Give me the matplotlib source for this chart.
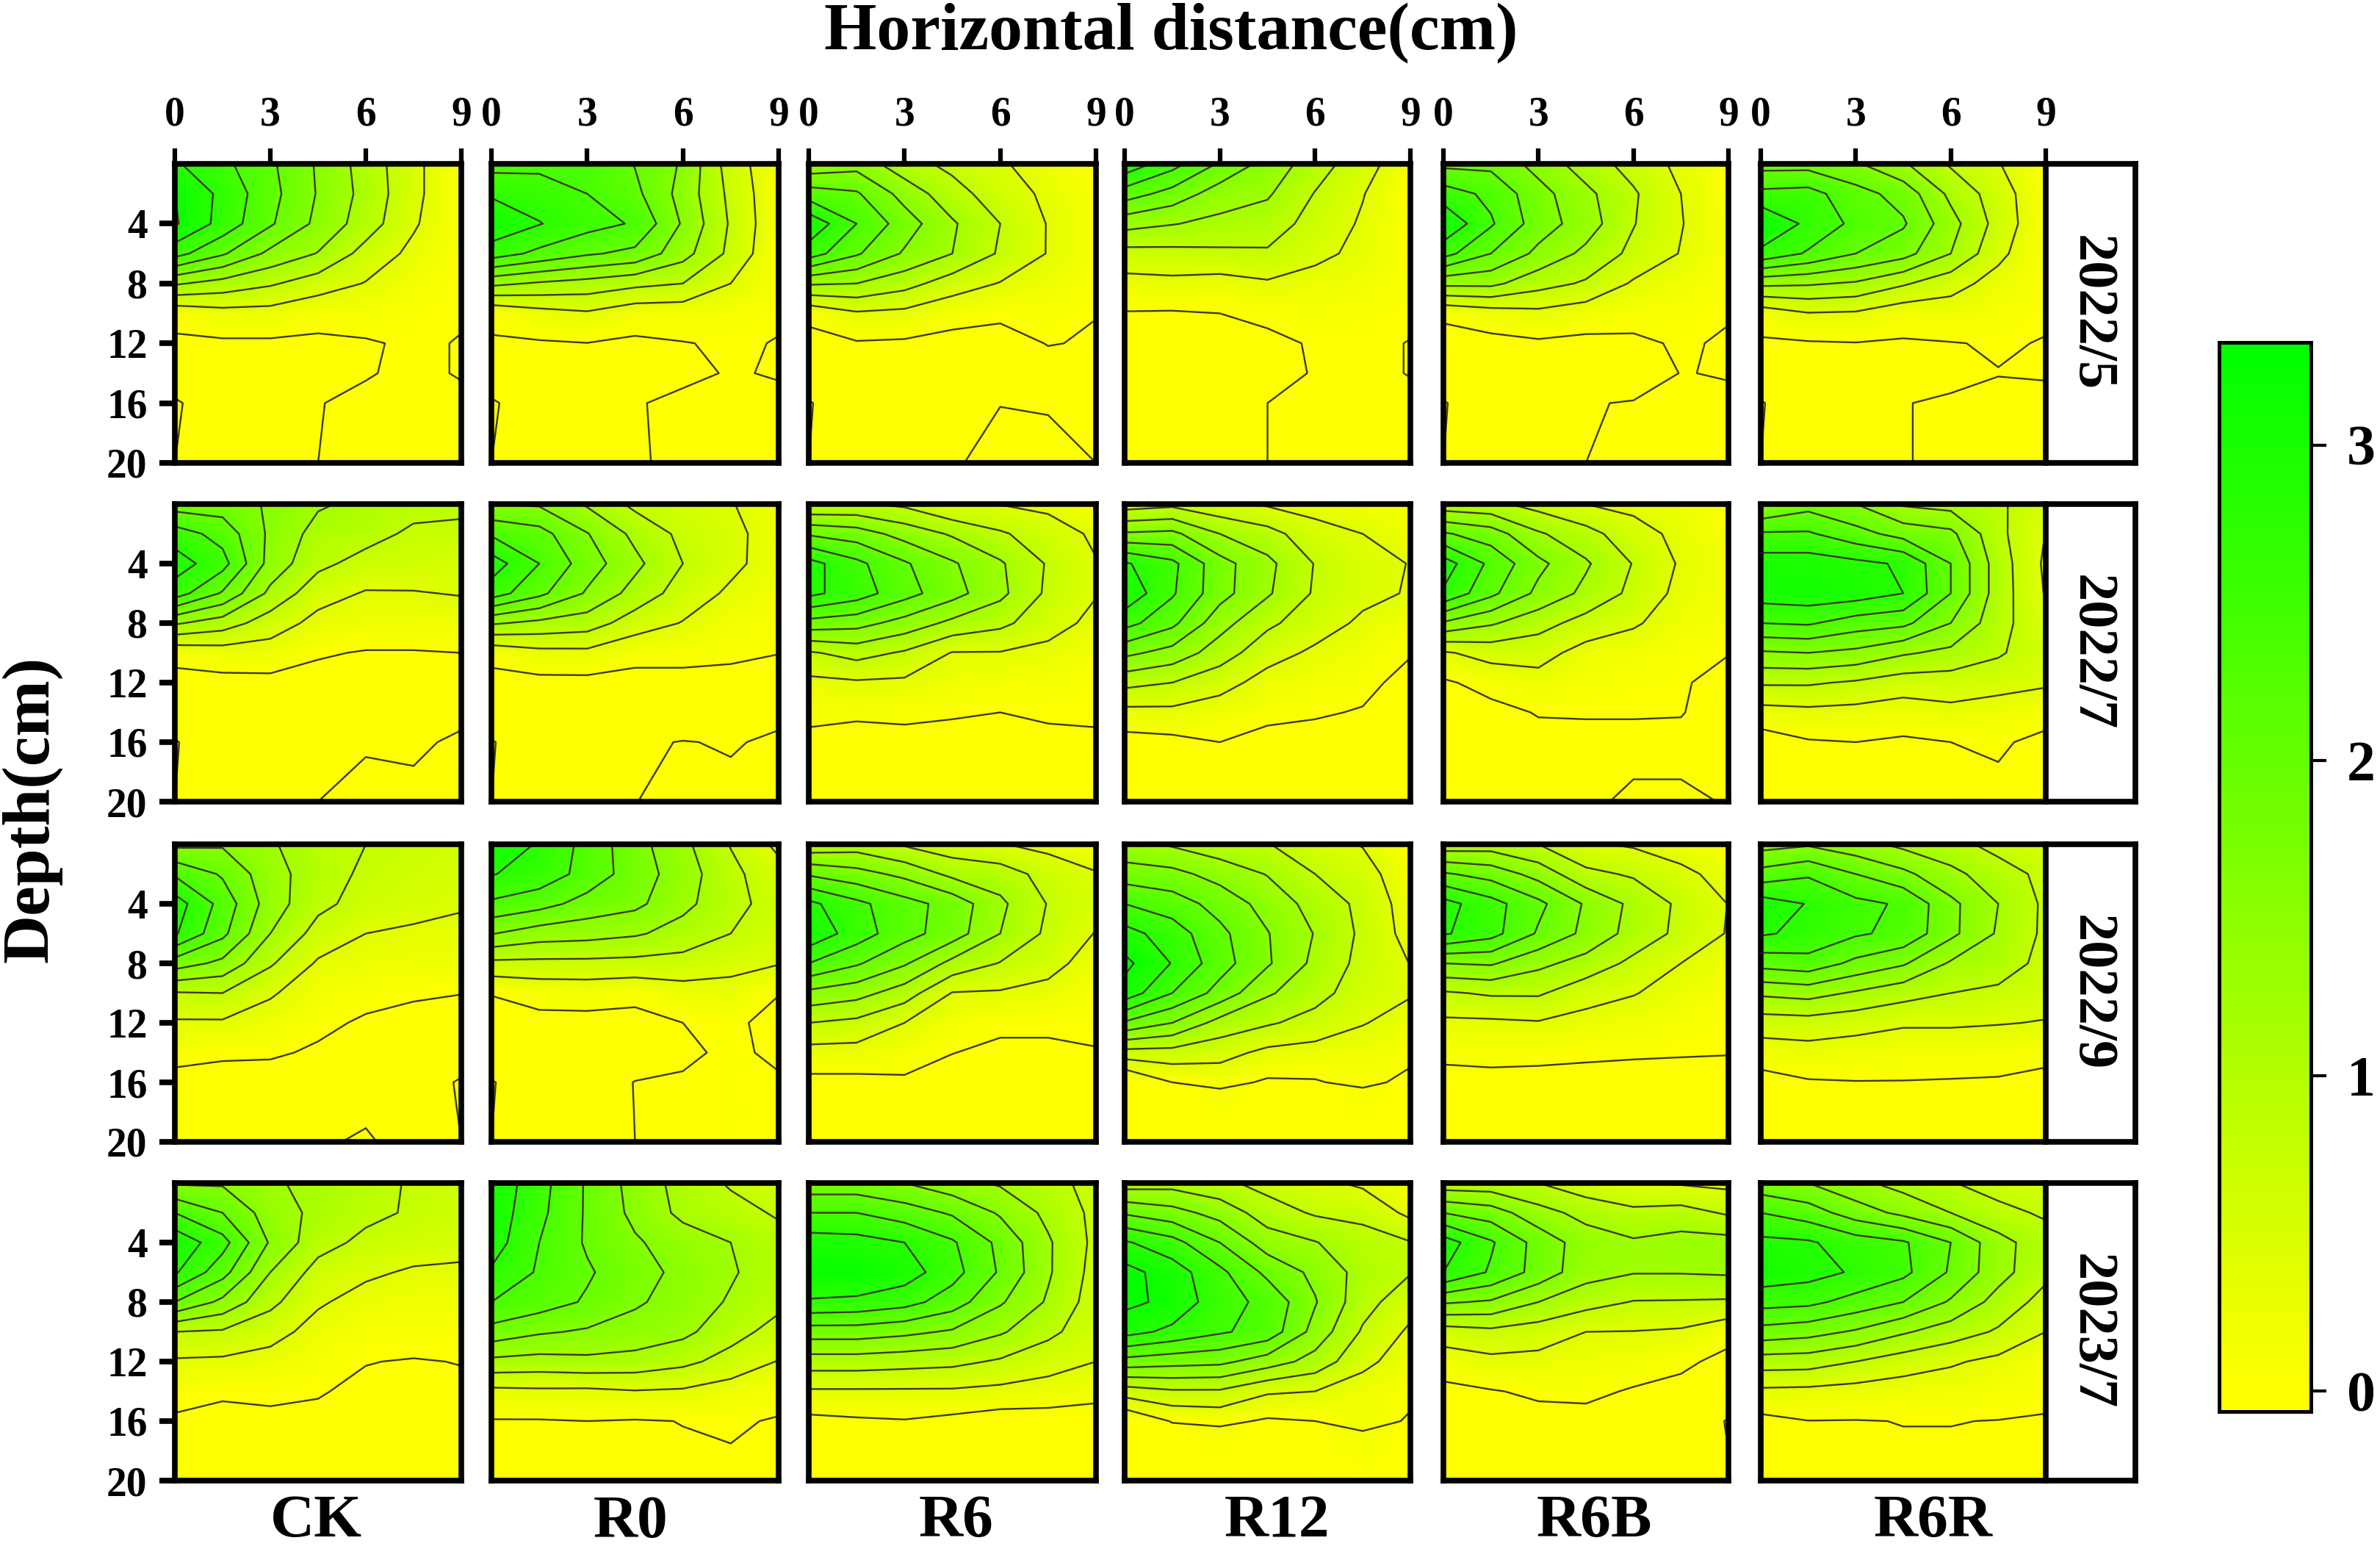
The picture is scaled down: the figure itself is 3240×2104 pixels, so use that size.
import matplotlib
matplotlib.use('Agg')
import matplotlib.pyplot as plt
import numpy as np
from matplotlib.colors import LinearSegmentedColormap, Normalize
from matplotlib.cm import ScalarMappable

plt.rcParams['font.family'] = ['Liberation Serif', 'DejaVu Serif']
plt.rcParams['font.weight'] = 'bold'

# Grid the soil values were read on
distance = [0, 1.5, 3, 4.5, 6, 7.5, 9]
depth = [0, 2, 4, 6, 8, 10, 12, 14, 16, 20]
contour_levels = [0, 0.4, 0.8, 1.2, 1.6, 2.0, 2.4, 2.8, 3.2]
treatments = ['CK', 'R0', 'R6', 'R12', 'R6B', 'R6R']
dates = ['2022/5', '2022/7', '2022/9', '2023/7']
distance_ticks = [0, 3, 6, 9]
depth_ticks = [4, 8, 12, 16, 20]
colorbar_ticks = [0, 1, 2, 3]

# 2022/5
ck_2022_05 = [[2.85, 2.5, 2.07, 1.55, 1.03, .5, .05], [3.2, 2.7, 2.13, 1.57, 1.07, .5, .05],
              [3.25, 2.65, 2.05, 1.5, 1.0, .45, .03], [2.55, 2.05, 1.5, 1.18, .65, .3, .03],
              [1.25, 1.05, .85, .6, .38, .15, .02], [.1, .25, .25, .1, .1, .05, .02],
              [-.05, -.05, -.05, -.05, -.02, .03, -.01], [-.05, -.05, -.05, -.05, -.01, .03, -.01],
              [.01, -.05, -.05, -.005, .03, .04, .03], [0, -.05, -.05, 0, .03, .04, .03]]
r0_2022_05 = [[2.25, 2.3, 2.38, 1.98, 1.55, .6, .1], [2.75, 2.6, 2.4, 2.1, 1.45, .7, .08],
              [3.1, 2.82, 2.55, 2.36, 1.55, .75, .08], [2.6, 2.3, 2.05, 1.9, 1.35, .7, .05],
              [1.3, 1.15, 1.05, .9, .8, .4, .05], [.05, .25, .35, .15, .15, .1, .03],
              [-.02, -.03, -.005, -.05, -.01, .03, -.01], [-.05, -.05, -.05, -.05, -.03, .01, -.01],
              [.01, -.05, -.05, -.01, .03, .04, .03], [0, -.05, -.05, -.01, .02, .04, .03]]
r6_2022_05 = [[1.3, 1.45, .95, .7, .45, .2, .05], [2.2, 2.05, 1.45, .95, .6, .32, .1],
              [3.1, 2.4, 1.8, 1.25, .8, .38, .1], [2.6, 2.05, 1.55, 1.2, .75, .38, .1],
              [1.25, 1.2, .95, .6, .38, .2, .1], [.08, .35, .3, .12, .05, .1, .005],
              [-.1, -.03, -.05, -.1, -.1, .01, -.02], [-.1, -.1, -.1, -.1, -.1, -.1, -.1],
              [.01, -.1, -.1, -.03, -.002, -.01, -.01], [0, -.1, -.1, -.01, .03, .04, 0]]
r12_2022_05 = [[3.1, 2.55, 1.95, 1.45, 1.0, .55, .15], [2.2, 1.85, 1.4, 1.25, .78, .42, -.005],
               [1.35, 1.22, 1.1, 1.0, .65, .35, .05], [.65, .68, .72, .75, .5, .3, .05],
               [.27, .3, .25, .35, .25, .18, .05], [-.02, -.03, 0, .05, .1, .08, .03],
               [-.1, -.1, -.1, -.05, .02, .03, -.005], [-.1, -.1, -.1, -.1, .02, .03, -.005],
               [-.1, -.1, -.1, 0, .03, .03, .03], [-.1, -.1, -.1, 0, .03, .03, .03]]
r6b_2022_05 = [[1.9, 1.9, 1.45, 1.0, .65, .3, .05], [2.6, 2.3, 1.75, 1.3, .85, .4, .05],
               [3.15, 2.45, 1.8, 1.4, .82, .42, .08], [2.55, 2.0, 1.5, 1.1, .7, .38, .08],
               [1.3, 1.3, .95, .75, .35, .2, .05], [.05, .2, .3, .18, .1, .08, .02],
               [-.1, -.1, -.05, -.08, -.05, .03, -.03], [-.1, -.1, -.1, -.1, -.1, .005, -.01],
               [.01, -.1, -.1, -.01, .01, .03, .03], [0, -.1, -.1, 0, .03, .03, .03]]
r6r_2022_05 = [[1.85, 1.85, 1.65, 1.25, .75, .42, .05], [2.5, 2.55, 2.15, 1.85, 1.1, .6, .05],
               [3.2, 2.7, 2.3, 2.05, 1.35, .65, .05], [2.7, 2.35, 2.0, 1.75, 1.2, .5, .05],
               [1.3, 1.25, 1.15, .85, .55, .25, .03], [.15, .38, .35, .15, .2, .12, .03],
               [-.04, -.03, -.01, -.03, -.01, .02, -.01], [-.05, -.05, -.05, -.05, -.04, -.005, -.01],
               [.005, -.05, -.05, -.005, .02, .04, .03], [0, -.05, -.05, -.005, .02, .04, .03]]

# 2022/7
ck_2022_07 = [[1.8, 1.8, 1.55, 1.25, 1.1, .95, .9], [2.6, 2.25, 1.52, 1.05, .95, .72, .7],
              [3.0, 2.55, 1.45, .9, .65, .6, .55], [2.6, 1.95, 1.1, .55, .37, .38, .42],
              [1.25, 1.0, .6, .28, .2, .2, .2], [.1, .2, .22, .03, -.02, -.02, 0],
              [-.1, -.1, -.1, -.1, -.1, -.1, -.1], [-.1, -.1, -.1, -.1, -.1, -.1, -.03],
              [.01, -.1, -.1, -.02, -.01, -.02, .02], [0, -.1, -.1, 0, .03, .03, .03]]
r0_2022_07 = [[1.6, 1.55, 1.15, .7, .55, .42, .2], [2.35, 2.15, 1.62, 1.1, .7, .5, .22],
              [3.0, 2.4, 1.8, 1.3, .8, .5, .2], [2.6, 2.1, 1.55, 1.05, .62, .33, .15],
              [1.25, 1.1, 1.0, .6, .38, .15, .1], [.1, .28, .3, .1, .1, .06, .005],
              [-.1, -.1, -.1, -.1, -.1, -.1, -.1], [-.1, -.1, -.1, -.1, -.1, -.1, -.03],
              [.01, -.1, -.1, -.02, .005, -.01, .02], [0, -.1, -.1, -.002, .03, .03, .03]]
r6_2022_07 = [[.8, .85, .72, .4, .39, .3, .1], [1.95, 1.8, 1.45, 1.15, .85, .6, .33],
              [2.95, 2.5, 2.05, 1.65, 1.25, .76, .42], [2.9, 2.6, 2.15, 1.75, 1.3, .72, .42],
              [1.85, 1.75, 1.45, 1.1, .9, .55, .3], [.75, .95, .75, .38, .38, .3, .15],
              [.3, .35, .33, .2, .15, .1, .07], [.1, .13, .07, .03, 0, .03, .05],
              [-.1, -.3, -.1, -.1, -.1, -.05, -.05], [-.1, -.1, -.1, -.1, -.1, -.1, -.1]]
r12_2022_07 = [[.6, .7, .5, .35, .25, .18, .1], [1.65, 1.7, 1.2, .95, .55, .4, .2],
               [2.85, 2.5, 1.75, 1.3, .78, .5, .39], [3.1, 2.45, 1.75, 1.25, .75, .5, .37],
               [2.55, 2.1, 1.35, .88, .58, .33, .18], [1.7, 1.45, 1.0, .55, .33, .2, .02],
               [.92, .8, .55, .25, .15, .08, -.1], [.28, .3, .2, .08, .03, -.02, -.1],
               [-.15, -.1, 0, -.1, -.1, -.1, -.1], [-.1, -.1, -.1, -.1, -.1, -.1, -.1]]
r6b_2022_07 = [[.95, .9, .65, .4, .3, .2, .05], [2.05, 1.8, 1.25, .95, .55, .3, .1],
               [3.0, 2.3, 1.7, 1.25, .78, .35, .15], [2.75, 2.1, 1.5, 1.1, .7, .28, .15],
               [1.55, 1.25, .95, .65, .45, .2, .1], [.35, .55, .55, .25, .18, .08, .01],
               [-.05, .12, .25, .1, .07, .03, -.1], [-.1, -.1, .02, .03, .015, .01, -.1],
               [-.1, -.1, -.1, -.1, -.05, -.05, -.1], [-.1, -.1, -.1, -.03, .03, .03, -.01]]
r6r_2022_07 = [[1.55, 1.85, 1.6, 1.15, 1.05, .85, .6], [2.45, 2.45, 2.15, 1.85, 1.7, .9, .39],
               [3.0, 3.0, 2.9, 2.75, 2.0, 1.0, .33], [3.0, 3.05, 3.0, 2.8, 2.0, 1.0, .37],
               [2.4, 2.45, 2.2, 2.1, 1.6, .95, .48], [1.55, 1.6, 1.5, 1.25, 1.1, .85, .55],
               [.85, .85, .75, .6, .6, .55, .45], [.25, .3, .27, .2, .3, .2, .15],
               [-.2, -.03, 0, -.05, 0, .05, -.1], [-.1, -.1, -.1, -.1, -.1, -.1, -.1]]

# 2022/9
ck_2022_09 = [[1.5, 1.55, 1.25, .95, .8, .7, .6], [2.35, 1.95, 1.35, 1.0, .72, .62, .55],
              [3.0, 2.25, 1.4, .9, .65, .55, .44], [2.85, 2.1, 1.2, .65, .4, .33, .3],
              [1.8, 1.5, .85, .35, .25, .22, .2], [.77, .8, .45, .15, .07, .02, .005],
              [.35, .35, .2, .05, -.03, -.05, -.1], [.1, .04, .03, -.03, -.1, -.1, -.1],
              [-.1, -.1, -.1, -.1, -.1, -.1, .02], [-.05, -.1, -.1, -.03, .03, -.1, 0]]
r0_2022_09 = [[3.15, 2.75, 2.27, 1.75, 1.3, .78, .3], [2.82, 2.65, 2.25, 1.8, 1.4, .9, .55],
              [2.33, 2.15, 1.85, 1.7, 1.3, .95, .6], [1.62, 1.4, 1.35, 1.25, 1.05, .8, .55],
              [.7, .7, .7, .68, .65, .5, .42], [.01, .13, .15, .09, .23, .28, .01],
              [-.1, -.1, -.1, -.1, 0, .06, -.1], [-.1, -.1, -.1, -.1, -.05, .05, -.05],
              [.01, -.1, -.1, .005, .03, .05, .03], [0, -.1, -.1, 0, .03, .05, .03]]
r6_2022_09 = [[.9, 1.0, .75, .55, .42, .28, .12], [1.95, 1.75, 1.5, 1.1, 1.0, .65, .43],
              [2.9, 2.5, 2.15, 1.85, 1.28, .78, .48], [3.1, 2.6, 2.15, 1.8, 1.2, .72, .38],
              [2.4, 2.05, 1.65, 1.08, .78, .55, .2], [1.5, 1.35, 1.0, .38, .36, .27, .1],
              [.8, .7, .4, .15, .05, .05, .04], [.25, .25, .15, .005, -.05, -.05, -.01],
              [-.1, -.1, -.05, -.1, -.1, -.1, -.1], [-.05, -.05, -.05, -.05, -.05, -.05, -.05]]
r12_2022_09 = [[1.3, 1.15, .95, .82, .55, .38, .08], [1.8, 1.72, 1.45, 1.18, .8, .55, .15],
               [2.4, 2.2, 1.85, 1.45, 1.05, .7, .2], [2.95, 2.6, 2.1, 1.62, 1.18, .72, .25],
               [3.3, 2.78, 2.17, 1.65, 1.1, .68, .39], [3.05, 2.4, 1.85, 1.25, .95, .58, .43],
               [1.95, 1.6, 1.05, .85, .65, .42, .25], [.65, .65, .55, .3, .25, .2, .1],
               [-.5, 0, .12, -.05, -.03, .1, -.1], [-1, -1, -1, -1, -1, -1, -1]]
r6b_2022_09 = [[.95, 1.0, .8, .45, .35, .2, .1], [2.05, 1.85, 1.45, .9, .75, .5, .25],
               [2.95, 2.55, 2.1, 1.55, 1.1, .72, .39], [2.85, 2.55, 1.95, 1.5, 1.05, .7, .37],
               [1.6, 1.65, 1.3, 1.05, .7, .4, .2], [.75, .85, .85, .55, .42, .25, .1],
               [.32, .33, .37, .27, .2, .1, .05], [.1, .1, .08, .05, .03, .015, .01],
               [-.15, -.1, -.1, -.1, -.1, -.08, -.1], [-.1, -.1, -.1, -.1, -.1, -.1, -.1]]
r6r_2022_09 = [[1.45, 1.55, 1.35, 1.1, .95, .65, .5], [2.15, 2.35, 2.0, 1.7, 1.3, 1.0, .68],
               [3.0, 2.78, 2.5, 2.35, 1.7, 1.2, .72], [2.85, 2.7, 2.45, 2.3, 1.7, 1.15, .72],
               [2.15, 2.25, 1.9, 1.65, 1.15, 1.05, .65], [1.27, 1.35, 1.15, .95, .8, .7, .55],
               [.6, .63, .55, .45, .45, .42, .38], [.2, .25, .2, .15, .15, .13, .1],
               [-.15, -.03, -.01, -.01, -.02, -.03, -.1], [-.1, -.1, -.1, -.1, -.1, -.1, -.1]]

# 2023/7
ck_2023_07 = [[1.55, 1.55, 1.25, 1.1, .95, .75, .65], [2.4, 2.0, 1.4, 1.1, .9, .75, .65],
              [3.1, 2.55, 1.55, .95, .7, .6, .55], [2.85, 2.15, 1.2, .65, .47, .35, .32],
              [2.0, 1.5, .9, .45, .25, .2, .17], [.8, .75, .55, .25, .1, .08, .06],
              [.35, .33, .25, .12, .005, -.01, .005], [.08, .015, .03, .01, -.03, -.03, -.03],
              [-.03, -.03, -.03, -.03, -.03, -.03, -.03], [-.05, -.05, -.05, -.05, -.05, -.05, -.05]]
r0_2023_07 = [[3.1, 2.55, 1.95, 1.45, 1.05, .75, .55], [3.05, 2.5, 1.95, 1.5, 1.1, .95, .75],
              [3.0, 2.4, 1.95, 1.65, 1.4, 1.2, .95], [2.75, 2.35, 2.05, 1.75, 1.5, 1.25, .95],
              [2.4, 2.2, 1.95, 1.65, 1.45, 1.15, .9], [1.85, 1.65, 1.55, 1.45, 1.3, .95, .65],
              [1.1, 1.05, 1.1, 1.05, .9, .65, .38], [.3, .33, .32, .38, .35, .22, .1],
              [-.02, -.02, 0, -.02, .005, .03, -.02], [-.05, -.05, -.05, -.05, -.05, -.05, -.05]]
r6_2023_07 = [[1.75, 1.75, 1.6, 1.35, 1.15, .9, .7], [2.4, 2.4, 2.2, 1.95, 1.55, 1.1, .7],
              [3.0, 2.95, 2.8, 2.45, 1.9, 1.25, .7], [3.2, 3.2, 3.0, 2.55, 1.95, 1.25, .65],
              [2.75, 2.7, 2.55, 2.2, 1.65, 1.15, .6], [1.8, 1.8, 1.7, 1.55, 1.25, .9, .55],
              [1.0, 1.0, .95, .9, .75, .55, .4], [.35, .35, .35, .35, .3, .25, .2],
              [-.1, -.05, -.02, -.1, -.2, -.2, -.3], [-.05, -.05, -.05, -.05, -.05, -.05, -.05]]
r12_2023_07 = [[1.0, 1.05, .9, .65, .5, .33, .15], [1.95, 1.75, 1.45, 1.0, .75, .7, .3],
               [2.85, 2.55, 2.0, 1.4, 1.22, .95, .82], [3.35, 3.0, 2.5, 1.9, 1.5, 1.05, .82],
               [3.3, 3.1, 2.55, 2.3, 1.63, .95, .55], [2.95, 2.7, 2.45, 2.25, 1.45, .75, .33],
               [1.85, 1.75, 1.7, 1.4, 1.05, .5, .2], [.6, .75, .75, .45, .4, .22, .1],
               [-.4, .03, .1, -.05, 0, .2, -.05], [-1, -1, -1, -1, -1, -1, -1]]
r6b_2023_07 = [[.95, .95, .8, .55, .39, .36, .3], [2.0, 1.8, 1.35, 1.07, .9, .95, .75],
               [3.0, 2.45, 1.85, 1.4, 1.25, 1.35, 1.35], [2.8, 2.35, 1.85, 1.35, 1.22, 1.22, 1.25],
               [1.65, 1.55, 1.2, .95, .78, .77, .75], [.6, .7, .6, .4, .39, .35, .12],
               [.2, .3, .28, .22, .17, .07, -.1], [-.1, -.02, .05, .07, -.03, -.1, -.1],
               [-.1, -.1, -.1, -.1, -.1, -.1, .01], [-.05, -.05, -.05, -.05, -.05, -.05, -.01]]
r6r_2023_07 = [[1.75, 1.6, 1.3, 1.05, .82, .65, .5], [2.4, 2.2, 1.8, 1.5, 1.2, .9, .75],
               [2.9, 2.85, 2.6, 2.45, 2.0, 1.35, .95], [3.05, 2.95, 2.75, 2.5, 1.95, 1.35, .9],
               [2.55, 2.5, 2.25, 2.0, 1.55, 1.05, .65], [1.85, 1.75, 1.55, 1.25, 1.0, .75, .4],
               [1.0, .98, .8, .6, .45, .3, .12], [.32, .3, .25, .2, .18, .12, .06],
               [-.1, -.005, -.01, .005, .005, -.005, -.02], [-.05, -.05, -.05, -.05, -.05, -.05, -.05]]

panels = [
    [ck_2022_05, r0_2022_05, r6_2022_05, r12_2022_05, r6b_2022_05, r6r_2022_05],
    [ck_2022_07, r0_2022_07, r6_2022_07, r12_2022_07, r6b_2022_07, r6r_2022_07],
    [ck_2022_09, r0_2022_09, r6_2022_09, r12_2022_09, r6b_2022_09, r6r_2022_09],
    [ck_2023_07, r0_2023_07, r6_2023_07, r12_2023_07, r6b_2023_07, r6r_2023_07],
]

W, H = 3240, 2104
col_left = [238, 669, 1101, 1531, 1965, 2397]
col_right = [628, 1060, 1492, 1920, 2353, 2785]
row_top = [223, 686, 1149, 1610]
row_bottom = [630, 1091, 1554, 2015]
strip_right = 2907
label_x = [430, 858, 1302, 1738, 2170, 2632]


def box(left, top, right, bottom):
    return [left / W, 1 - bottom / H, (right - left) / W, (bottom - top) / H]


# yellow holds up to zero, then runs to pure green at the top of the bar
cmap = LinearSegmentedColormap.from_list('yg', [(0, '#FFFF00'), (0.02, '#FFFF00'), (1, '#00FF00')])
norm = Normalize(-0.065, 3.326)

fig = plt.figure(figsize=(32.4, 21.04), dpi=100)

for r in range(4):
    for c in range(6):
        ax = fig.add_axes(box(col_left[c], row_top[r], col_right[c], row_bottom[r]))
        values = np.array(panels[r][c])
        ax.pcolormesh(distance, depth, values, cmap=cmap, norm=norm, shading='gouraud')
        ax.contour(distance, depth, values, levels=contour_levels, colors='#3c3c1e', linewidths=1.7)
        ax.set_xlim(0, 9)
        ax.set_ylim(20, 0)
        for s in ax.spines.values():
            s.set_linewidth(5.5)
        ax.xaxis.tick_top()
        if r == 0:
            ax.set_xticks(distance_ticks)
            ax.tick_params(axis='x', length=15, width=4.5, labelsize=40, pad=14)
        else:
            ax.set_xticks([])
        if c == 0:
            ax.set_yticks(depth_ticks)
            ax.tick_params(axis='y', length=15, width=5.5, labelsize=40, pad=12)
        else:
            ax.set_yticks([])

    # date strip to the right of the last column
    strip = fig.add_axes(box(col_right[-1], row_top[r], strip_right, row_bottom[r]))
    strip.set_xticks([])
    strip.set_yticks([])
    for s in strip.spines.values():
        s.set_linewidth(5.5)
    strip.text(0.5, 0.5, dates[r], rotation=-90, ha='center', va='center', fontsize=55,
               transform=strip.transAxes)

for x, name in zip(label_x, treatments):
    fig.text(x / W, 1 - 2072 / H, name, ha='center', va='center', fontsize=60)

fig.text(1594 / W, 1 - 45 / H, 'Horizontal distance(cm)', ha='center', va='center', fontsize=66)
fig.text(43 / W, 1 - 1101 / H, 'Depth(cm)', ha='center', va='center', rotation=90, fontsize=66)

cax = fig.add_axes(box(3021, 466, 3146, 1921))
cb = fig.colorbar(ScalarMappable(norm=norm, cmap=cmap), cax=cax)
cb.set_ticks(colorbar_ticks)
cb.ax.tick_params(length=15, width=3, labelsize=56, pad=20)
cb.outline.set_linewidth(3.6)

fig.savefig('out.png', dpi=100)
